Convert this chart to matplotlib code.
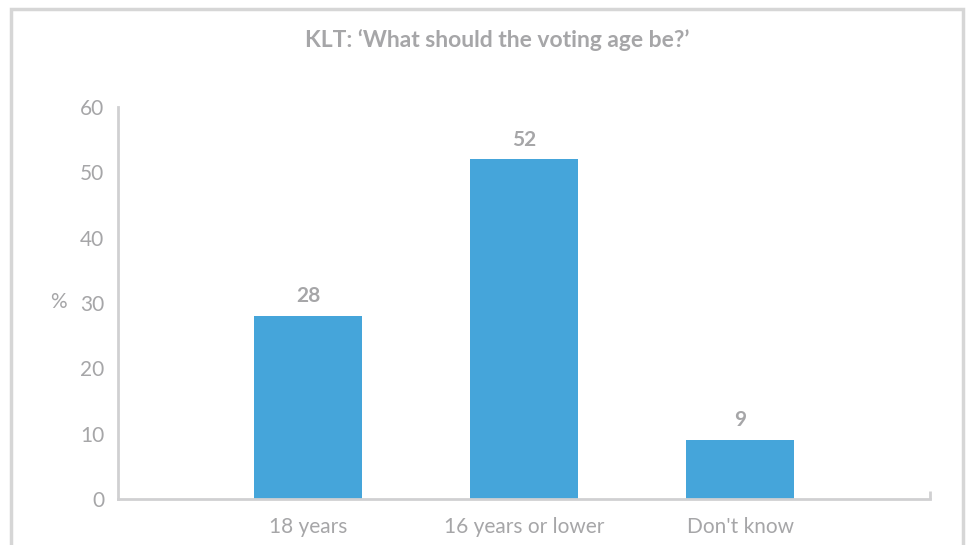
import matplotlib.pyplot as plt
from matplotlib.patches import Rectangle

categories = ['18 years', '16 years or lower', "Don't know"]
values = [28, 52, 9]
yticks = [0, 10, 20, 30, 40, 50, 60]

plt.rcParams['font.family'] = ['Lato', 'DejaVu Sans']

grey = '#a6a6a8'
axis_grey = '#d0d0d2'
bar_blue = '#45a5da'

fig = plt.figure(figsize=(9.7, 5.45), dpi=100)
W, H = 970, 545
ax = fig.add_axes([118 / W, 1 - 499 / H, (930 - 118) / W, (499 - 107) / H])

x = range(len(categories))
ax.bar(x, values, width=0.5, color=bar_blue, zorder=2)
for xi, v in zip(x, values):
    ax.annotate(str(v), (xi, v), xytext=(0, 7), textcoords='offset points',
                ha='center', va='bottom', fontsize=15, fontweight='bold', color=grey)

ax.set_xlim(-0.882, 2.88)
ax.set_ylim(0, 60)
ax.set_yticks(yticks)
ax.set_xticks(list(x))
ax.set_xticklabels(categories)
ax.tick_params(axis='both', length=0, labelsize=15, labelcolor=grey)
ax.tick_params(axis='y', pad=10)
ax.tick_params(axis='x', pad=13)

for side in ['top', 'right']:
    ax.spines[side].set_visible(False)
for side in ['left', 'bottom']:
    ax.spines[side].set_color(axis_grey)
    ax.spines[side].set_linewidth(2)

# small upward tick at the right end of the x axis
ax.plot([2.88, 2.88], [0, 1.2], color=axis_grey, lw=2, clip_on=False, solid_capstyle='butt')

fig.text(58 / W, 1 - 302 / H, '%', ha='center', va='center', fontsize=15, color=grey)
fig.text(497 / W, 1 - 40 / H, "KLT: \u2018What should the voting age be?\u2019",
         ha='center', va='center', fontsize=16.5, fontweight='bold', color=grey)

# outer border
fig.patches.append(Rectangle((11 / W, -0.05), (963 - 11) / W, (1 - 9 / H) + 0.05,
                             transform=fig.transFigure, fill=False,
                             edgecolor='#d6d6d6', lw=2.5))

fig.savefig('out.png', dpi=100)
